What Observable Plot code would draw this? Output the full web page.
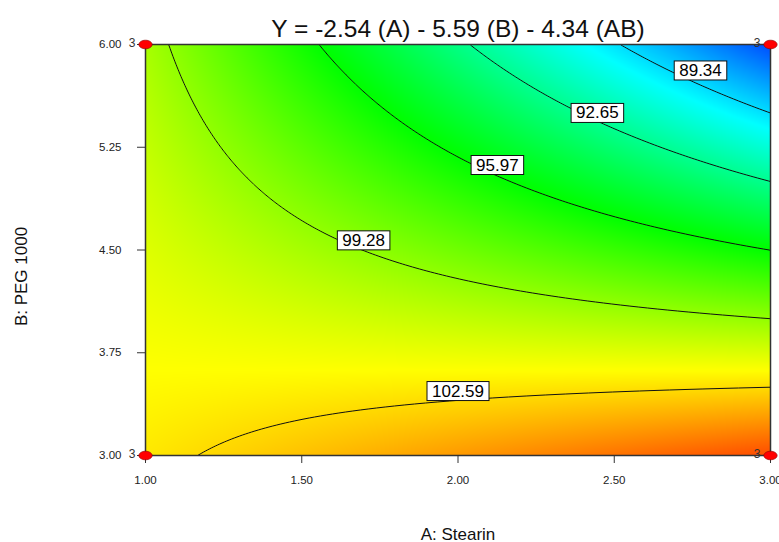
<!DOCTYPE html>
<html>
<head>
<meta charset="utf-8">
<script src="https://cdn.jsdelivr.net/npm/d3@7"></script>
<script src="https://cdn.jsdelivr.net/npm/@observablehq/plot@0.6"></script>
<style>
  body { margin: 0; background: #fff; font-family: Arial, "Liberation Sans", sans-serif; }
</style>
</head>
<body>
<div id="chart"></div>
<script>
// ---- Data ----
const titleText = "Y = -2.54 (A) - 5.59 (B) - 4.34 (AB)";
const xLabel = "A: Stearin";
const yLabel = "B: PEG 1000";
// coded model: intercept, A, B, AB  (title gives A, B, AB; intercept estimated from contours)
const termNames = ["Intercept", "A", "B", "AB"];
const coefficients = [98.5, -2.54, -5.59, -4.34];
const factorRangeA = [1, 3];
const factorRangeB = [3, 6];
const xTicks = [1.00, 1.50, 2.00, 2.50, 3.00];
const yTicks = [3.00, 3.75, 4.50, 5.25, 6.00];
const contourLevels = [89.34, 92.65, 95.97, 99.28, 102.59];
const labelText = ["89.34", "92.65", "95.97", "99.28", "102.59"];
const labelA = [2.776, 2.446, 2.126, 1.698, 2.0];
const labelB = [5.81, 5.50, 5.12, 4.57, 3.47];
const designA = [1, 3, 1, 3];
const designB = [3, 3, 6, 6];
const designCount = ["3", "3", "3", "3"];
const colorStops = [84.3, 90.125, 95.95, 101.775, 107.6];
const colorRange = ["#0000ff", "#00ffff", "#00ff00", "#ffff00", "#ff0000"];

// ---- Build tables ----
const labels = labelText.map((t, i) => ({t, a: labelA[i], b: labelB[i]}));
const design = designA.map((a, i) => ({a, b: designB[i], n: designCount[i]}));

const midA = (factorRangeA[0] + factorRangeA[1]) / 2, halfA = (factorRangeA[1] - factorRangeA[0]) / 2;
const midB = (factorRangeB[0] + factorRangeB[1]) / 2, halfB = (factorRangeB[1] - factorRangeB[0]) / 2;
const response = (a, b) => {
  const ac = (a - midA) / halfA, bc = (b - midB) / halfB;
  return coefficients[0] + coefficients[1] * ac + coefficients[2] * bc + coefficients[3] * ac * bc;
};

// ellipse symbol for design points
const ellipse = {
  draw(context, size) {
    const r = Math.sqrt(size / Math.PI);
    const rx = r * 1.55, ry = r;
    const k = 0.5523;
    context.moveTo(rx, 0);
    context.bezierCurveTo(rx, ry * k, rx * k, ry, 0, ry);
    context.bezierCurveTo(-rx * k, ry, -rx, ry * k, -rx, 0);
    context.bezierCurveTo(-rx, -ry * k, -rx * k, -ry, 0, -ry);
    context.bezierCurveTo(rx * k, -ry, rx, -ry * k, rx, 0);
    context.closePath();
  }
};

const fmt = d3.format(".2f");
const font = "Arial, 'Liberation Sans', sans-serif";
const tickLabelSet = new Set([...xTicks, ...yTicks].map(fmt));

const plot = Plot.plot({
  width: 779,
  height: 542,
  marginTop: 44,
  marginLeft: 145,
  marginRight: 9,
  marginBottom: 87,
  style: {fontFamily: font, fontSize: "11px", background: "#fff", overflow: "visible"},
  x: {domain: factorRangeA},
  y: {domain: factorRangeB},
  color: {type: "linear", domain: colorStops, range: colorRange, interpolate: "rgb"},
  marks: [
    Plot.raster({fill: response, x1: factorRangeA[0], x2: factorRangeA[1], y1: factorRangeB[0], y2: factorRangeB[1], pixelSize: 1}),
    Plot.contour({value: response, x1: factorRangeA[0], x2: factorRangeA[1], y1: factorRangeB[0], y2: factorRangeB[1],
      thresholds: contourLevels, stroke: "#111", fill: "none", strokeWidth: 1, pixelSize: 1}),
    Plot.frame({stroke: "#333", strokeWidth: 1.5}),
    Plot.axisX({ticks: xTicks, tickFormat: fmt, tickSize: 8, tickPadding: 12, label: null, stroke: "#333", fill: "#222"}),
    Plot.axisY({ticks: yTicks, tickFormat: fmt, tickSize: 8, tickPadding: 16, label: null, stroke: "#333", fill: "#222"}),
    Plot.text(labels, {x: "a", y: "b", text: "t", fontSize: 17, fill: "#000", textAnchor: "middle", lineAnchor: "middle"}),
    Plot.dot(design, {x: "a", y: "b", symbol: ellipse, r: 4.3, fill: "#ff0000", stroke: "#800", strokeWidth: 0.6}),
    Plot.text(design, {x: "a", y: "b", text: "n", dx: -10, dy: -1, textAnchor: "end", lineAnchor: "middle", fontSize: 12, fill: "#333"}),
    Plot.text([titleText], {frameAnchor: "top", dy: -8, lineAnchor: "bottom", fontSize: 24.5, fill: "#111"}),
    Plot.text([xLabel], {frameAnchor: "bottom", dy: 84, lineAnchor: "bottom", fontSize: 17, fill: "#111"}),
    Plot.text([yLabel], {frameAnchor: "left", dx: -124, dy: 26.5, rotate: -90, textAnchor: "middle", lineAnchor: "middle", fontSize: 17, fill: "#111"})
  ]
});

document.getElementById("chart").appendChild(plot);

// tick label size (applied on each tick text)
d3.select(plot).selectAll("text").each(function() {
  if (tickLabelSet.has(this.textContent)) {
    this.setAttribute("font-size", "11.5");
    this.style.fontSize = "11.5px";
  }
});

// white boxes behind contour labels
const labelSet = new Set(labelText);
d3.select(plot).selectAll("text").each(function() {
  if (!labelSet.has(this.textContent)) return;
  const bb = this.getBBox();
  const parent = this.parentNode;
  const rect = document.createElementNS("http://www.w3.org/2000/svg", "rect");
  rect.setAttribute("x", bb.x - 5);
  rect.setAttribute("y", bb.y);
  rect.setAttribute("width", bb.width + 10);
  rect.setAttribute("height", bb.height);
  rect.setAttribute("fill", "#fff");
  rect.setAttribute("stroke", "#111");
  rect.setAttribute("stroke-width", "1");
  const tr = this.getAttribute("transform");
  if (tr) rect.setAttribute("transform", tr);
  parent.insertBefore(rect, this);
});
</script>
</body>
</html>
